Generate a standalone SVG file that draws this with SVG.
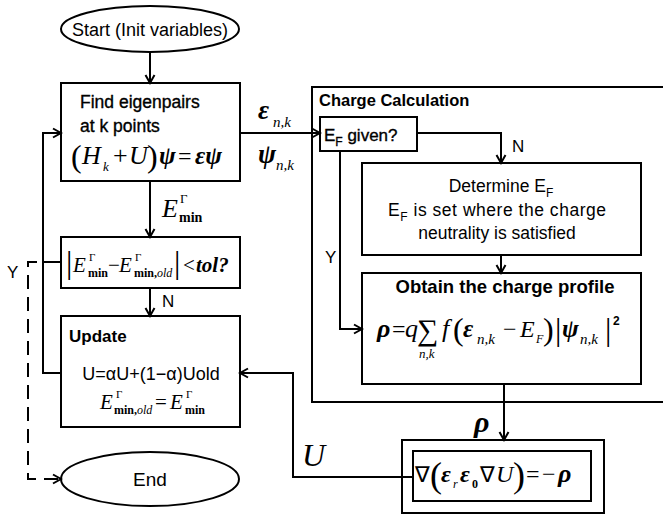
<svg xmlns="http://www.w3.org/2000/svg" width="663" height="516" viewBox="0 0 663 516">
<defs>
<marker id="ah" markerWidth="12" markerHeight="12" refX="10" refY="6" orient="auto" markerUnits="userSpaceOnUse">
<path d="M2,1.5 L10,6 L2,10.5" fill="none" stroke="#000" stroke-width="2"/>
</marker>
<style>
.box{fill:#fff;stroke:#000;stroke-width:2}
.ln{fill:none;stroke:#000;stroke-width:2}
.dash{fill:none;stroke:#000;stroke-width:2;stroke-dasharray:14 8}
.sans{font-family:"Liberation Sans",Arial,sans-serif;fill:#000}
.med{stroke:#000;stroke-width:0.35}
.ser{font-family:"Liberation Serif","Times New Roman",serif;fill:#000}
.bi{font-weight:bold;font-style:italic}
.it{font-style:italic}
.b{font-weight:bold}
</style>
</defs>
<rect width="663" height="516" fill="#fff"/>

<g id="charge-calculation">
<rect class="box" x="312" y="87" width="420" height="315"/>
<text class="sans b" x="319" y="106" font-size="16.5">Charge Calculation</text>
</g>

<g id="start">
<ellipse class="box" cx="150" cy="29" rx="89" ry="23"/>
<text class="sans" x="150" y="36" font-size="18" text-anchor="middle">Start (Init variables)</text>
</g>

<g id="find-eigenpairs">
<rect class="box" x="61" y="83" width="179" height="98"/>
<text class="sans med" x="80" y="108" font-size="17.5">Find eigenpairs</text>
<text class="sans med" x="80" y="132" font-size="17.5">at k points</text>
<text class="ser" x="71" y="167" font-size="32">(</text>
<text class="ser it" x="82" y="164" font-size="26">H</text>
<text class="ser it" x="103" y="171" font-size="13">k</text>
<text class="ser" x="113" y="164" font-size="26">+</text>
<text class="ser it" x="129" y="164" font-size="26">U</text>
<text class="ser" x="147" y="167" font-size="32">)</text>
<text class="ser bi" x="159" y="164" font-size="25">ψ</text>
<text class="ser" x="178" y="164" font-size="24">=</text>
<text class="ser bi" x="195" y="164" font-size="25">εψ</text>
</g>

<g id="emin-check">
<rect class="box" x="61" y="237" width="179" height="51"/>
<text class="ser" x="66" y="273" font-size="32">|</text>
<text class="ser it" x="73" y="272" font-size="21">E</text>
<text class="ser" x="89" y="261" font-size="11">Γ</text>
<text class="ser b" x="88" y="277" font-size="12">min</text>
<text class="ser" x="108" y="272" font-size="21">−</text>
<text class="ser it" x="119" y="272" font-size="21">E</text>
<text class="ser" x="135" y="261" font-size="11">Γ</text>
<text class="ser" x="134" y="277" font-size="12"><tspan class="b">min,</tspan><tspan class="it">old</tspan></text>
<text class="ser" x="174" y="273" font-size="32">|</text>
<text class="ser" x="183" y="272" font-size="21">&lt;</text>
<text class="ser bi" x="196" y="272" font-size="21">tol?</text>
</g>

<g id="update">
<rect class="box" x="61" y="316" width="179" height="111"/>
<text class="sans b" x="69" y="342" font-size="17">Update</text>
<text class="sans" x="151" y="380" font-size="18" text-anchor="middle">U=αU+(1−α)Uold</text>
<text class="ser it" x="100" y="409" font-size="21">E</text>
<text class="ser" x="116" y="398" font-size="11">Γ</text>
<text class="ser" x="114" y="414" font-size="12"><tspan class="b">min,</tspan><tspan class="it">old</tspan></text>
<text class="ser" x="155" y="409" font-size="21">=</text>
<text class="ser it" x="170" y="409" font-size="21">E</text>
<text class="ser" x="186" y="398" font-size="11">Γ</text>
<text class="ser b" x="185" y="414" font-size="12">min</text>
</g>

<g id="end">
<ellipse class="box" cx="150" cy="479" rx="89" ry="27"/>
<text class="sans" x="150" y="486" font-size="19" text-anchor="middle">End</text>
</g>

<g id="ef-given">
<rect class="box" x="320" y="117" width="97" height="34"/>
<text class="sans med" x="324" y="141" font-size="17">E<tspan font-size="12" dy="5">F</tspan><tspan dy="-5"> given?</tspan></text>
</g>

<g id="determine-ef">
<rect class="box" x="362" y="163" width="279" height="92"/>
<text class="sans" x="501" y="192" font-size="17.5" text-anchor="middle">Determine E<tspan font-size="12" dy="5">F</tspan></text>
<text class="sans" x="388" y="216" font-size="17.5" textLength="218">E<tspan font-size="12" dy="5">F</tspan><tspan dy="-5"> is set where the charge</tspan></text>
<text class="sans" x="497" y="239" font-size="17.5" text-anchor="middle">neutrality is satisfied</text>
</g>

<g id="charge-profile">
<rect class="box" x="362" y="273" width="279" height="111"/>
<text class="sans b" x="505" y="293" font-size="18.5" text-anchor="middle">Obtain the charge profile</text>
<text class="ser bi" x="377" y="337" font-size="26">ρ</text>
<text class="ser" x="392" y="337" font-size="24">=</text>
<text class="ser it" x="405" y="337" font-size="26">q</text>
<text class="ser" x="417" y="340" font-size="30">∑</text>
<text class="ser it" x="419" y="358" font-size="13">n,k</text>
<text class="ser it" x="442" y="337" font-size="26">f</text>
<text class="ser" x="453" y="340" font-size="32">(</text>
<text class="ser bi" x="463" y="337" font-size="25">ε</text>
<text class="ser it" x="477" y="344" font-size="15">n,k</text>
<text class="ser" x="503" y="337" font-size="24">−</text>
<text class="ser it" x="520" y="337" font-size="24">E</text>
<text class="ser it" x="536" y="343" font-size="12">F</text>
<text class="ser" x="543" y="340" font-size="32">)</text>
<text class="ser" x="555" y="340" font-size="32">|</text>
<text class="ser bi" x="562" y="337" font-size="25">ψ</text>
<text class="ser it" x="580" y="344" font-size="15">n,k</text>
<text class="ser" x="605" y="340" font-size="32">|</text>
<text class="sans b" x="613" y="325" font-size="12">2</text>
</g>

<g id="poisson">
<rect class="box" x="402" y="440" width="202" height="73"/>
<rect class="box" x="413" y="451" width="178" height="50"/>
<text class="ser" x="415" y="482" font-size="22">∇</text>
<text class="ser" x="430" y="487" font-size="36">(</text>
<text class="ser bi" x="441" y="482" font-size="24">ε</text>
<text class="ser it" x="453" y="488" font-size="12">r</text>
<text class="ser bi" x="460" y="482" font-size="24">ε</text>
<text class="ser b" x="472" y="488" font-size="12">0</text>
<text class="ser" x="480" y="482" font-size="22">∇</text>
<text class="ser it" x="496" y="482" font-size="24">U</text>
<text class="ser" x="513" y="487" font-size="36">)</text>
<text class="ser" x="526" y="482" font-size="24">=</text>
<text class="ser" x="542" y="482" font-size="24">−</text>
<text class="ser bi" x="558" y="482" font-size="26">ρ</text>
</g>

<g id="connectors">
<path class="ln" d="M150,52 V83" marker-end="url(#ah)"/>
<path class="ln" d="M240,133 H320" marker-end="url(#ah)"/>
<path class="ln" d="M150,181 V237" marker-end="url(#ah)"/>
<path class="ln" d="M150,288 V316" marker-end="url(#ah)"/>
<path class="ln" d="M61,373 H43 V133 H61" marker-end="url(#ah)"/>
<path class="ln" d="M61,262 H43"/>
<path class="dash" d="M37,262 H28 V479 H61" marker-end="url(#ah)"/>
<path class="ln" d="M417,133 H501 V163" marker-end="url(#ah)"/>
<path class="ln" d="M501,255 V273" marker-end="url(#ah)"/>
<path class="ln" d="M340,151 V329 H362" marker-end="url(#ah)"/>
<path class="ln" d="M504,384 V440" marker-end="url(#ah)"/>
<path class="ln" d="M413,477 H293 V373 H240" marker-end="url(#ah)"/>
<text class="ser bi" x="258" y="119" font-size="27">ε</text>
<text class="ser it" x="273" y="127" font-size="15">n,k</text>
<text class="ser bi" x="258" y="163" font-size="27">ψ</text>
<text class="ser it" x="276" y="170" font-size="15">n,k</text>
<text class="ser it" x="162" y="217" font-size="26">E</text>
<text class="ser" x="180" y="203" font-size="13">Γ</text>
<text class="ser b" x="179" y="222" font-size="14">min</text>
<text class="sans" x="162" y="307" font-size="17">N</text>
<text class="sans" x="512" y="152" font-size="17">N</text>
<text class="sans" x="325" y="263" font-size="17">Y</text>
<text class="sans" x="7" y="278" font-size="17">Y</text>
<text class="ser bi" x="474" y="432" font-size="30">ρ</text>
<text class="ser it" x="302" y="466" font-size="32">U</text>
</g>
</svg>
